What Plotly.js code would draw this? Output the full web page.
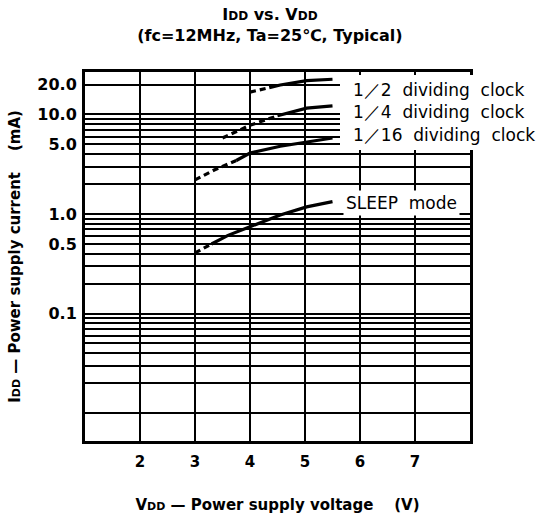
<!DOCTYPE html>
<html><head><meta charset="utf-8">
<script src="https://cdn.plot.ly/plotly-3.0.1.min.js"></script>
<style>html,body{margin:0;padding:0;background:#fff}</style>
</head><body><div id="chart" style="width:542px;height:523px"></div>
<script>
// ---- data ----
const halfDashX = [4.0, 4.15, 4.35];
const halfDashY = [16.8, 17.6, 18.6];
const halfX = [4.35, 4.55, 5.03, 5.5];
const halfY = [18.6, 19.8, 21.9, 22.6];

const quarterDashX = [3.5, 4.0, 4.5];
const quarterDashY = [5.8, 7.8, 9.7];
const quarterX = [4.5, 5.03, 5.5];
const quarterY = [9.7, 11.6, 12.2];

const sixteenthDashX = [3.0, 3.35, 3.75];
const sixteenthDashY = [2.2, 2.77, 3.45];
const sixteenthX = [3.75, 4.0, 4.55, 5.03, 5.5];
const sixteenthY = [3.45, 4.1, 4.8, 5.33, 5.8];

const sleepDashX = [3.0, 3.3];
const sleepDashY = [0.406, 0.5];
const sleepX = [3.3, 3.6, 4.0, 4.55, 5.03, 5.5];
const sleepY = [0.5, 0.61, 0.745, 0.977, 1.18, 1.33];

const curveLabels = ["1／2  dividing  clock", "1／4  dividing  clock", "1／16  dividing  clock", "SLEEP  mode"];

const xTickVals = [2, 3, 4, 5, 6, 7];
const xTickText = ["2", "3", "4", "5", "6", "7"];
const yGridVals = [0.01, 0.02, 0.03, 0.04, 0.05, 0.06, 0.07, 0.08, 0.09, 0.1,
                   0.2, 0.3, 0.4, 0.5, 0.6, 0.7, 0.8, 0.9, 1,
                   2, 3, 4, 5, 6, 7, 8, 9, 10, 20];
const yLabelVals = [0.1, 0.5, 1, 5, 10, 20];
const yLabelText = ["0.1", "0.5", "1.0", "5.0", "10.0", "20.0"];

// ---- build ----
const yTickText = yGridVals.map(v => {
  const i = yLabelVals.indexOf(v);
  return i >= 0 ? yLabelText[i] : "";
});

const solid = {color: "#000", width: 3.2};
const dashed = {color: "#000", width: 3.2, dash: "6px,4px"};
function tr(x, y, line) {
  return {x: x, y: y, type: "scatter", mode: "lines", line: line, hoverinfo: "skip", showlegend: false};
}
const data = [
  tr(halfDashX, halfDashY, dashed), tr(halfX, halfY, solid),
  tr(quarterDashX, quarterDashY, dashed), tr(quarterX, quarterY, solid),
  tr(sixteenthDashX, sixteenthDashY, dashed), tr(sixteenthX, sixteenthY, solid),
  tr(sleepDashX, sleepDashY, dashed), tr(sleepX, sleepY, solid)
];

const FONT = "DejaVu Sans, sans-serif";
const sub = (s, sz) => "<span style='font-size:" + sz + "px'>" + s + "</span>";

function lab(text, px, py, bg) {
  return {
    text: text, xref: "paper", yref: "paper",
    x: (px - 85) / 385, y: (441 - py) / 369,
    xanchor: "left", yanchor: "middle", showarrow: false,
    font: {family: FONT, size: 17, color: "#000"},
    bgcolor: bg ? "#fff" : "rgba(0,0,0,0)", borderpad: 2
  };
}

const layout = {
  width: 542, height: 523,
  margin: {l: 85, r: 72, t: 72, b: 82},
  paper_bgcolor: "#fff", plot_bgcolor: "#fff",
  font: {family: FONT, color: "#000"},
  title: {
    text: "<b>I" + sub("DD", 12) + " vs. V" + sub("DD", 12) + "<br>(fc=12MHz, Ta=25℃, Typical)</b>",
    x: 0.498, xref: "container", y: (523 - 20) / 523, yref: "container", yanchor: "middle",
    font: {family: FONT, size: 16, color: "#000"}
  },
  xaxis: {
    type: "linear", range: [1, 8],
    tickmode: "array", tickvals: xTickVals, ticktext: xTickText,
    ticks: "", ticklabelstandoff: 5,
    tickfont: {family: FONT, size: 15, color: "#000", weight: "bold"},
    showgrid: true, gridcolor: "#000", gridwidth: 2,
    showline: true, linecolor: "#000", linewidth: 3, mirror: true,
    zeroline: false,
    title: {text: "<b>V" + sub("DD", 11) + " — Power supply voltage    (V)</b>", font: {family: FONT, size: 15, color: "#000"}, standoff: 30}
  },
  yaxis: {
    type: "log", range: [-2.281, 1.427],
    tickmode: "array", tickvals: yGridVals, ticktext: yTickText,
    ticks: "", ticklabelstandoff: 2,
    tickfont: {family: FONT, size: 16, color: "#000", weight: "bold"},
    showgrid: true, gridcolor: "#000", gridwidth: 2,
    showline: true, linecolor: "#000", linewidth: 3, mirror: true,
    zeroline: false,
    title: {text: "<b>I" + sub("DD", 11) + " — Power supply current    (mA)</b>", font: {family: FONT, size: 15, color: "#000"}, standoff: 14}
  },
  shapes: [{
    type: "rect", xref: "paper", yref: "paper",
    x0: (340 - 85) / 385, x1: (545 - 85) / 385,
    y0: (441 - 150) / 369, y1: (441 - 75) / 369,
    fillcolor: "#fff", line: {width: 0}, layer: "above"
  }],
  annotations: [
    lab(curveLabels[0], 350, 90, false),
    lab(curveLabels[1], 350, 112, false),
    lab(curveLabels[2], 350, 135, false),
    lab(curveLabels[3], 343, 203, true)
  ]
};

Plotly.newPlot("chart", data, layout, {displayModeBar: false, staticPlot: true});
</script>
</body></html>
